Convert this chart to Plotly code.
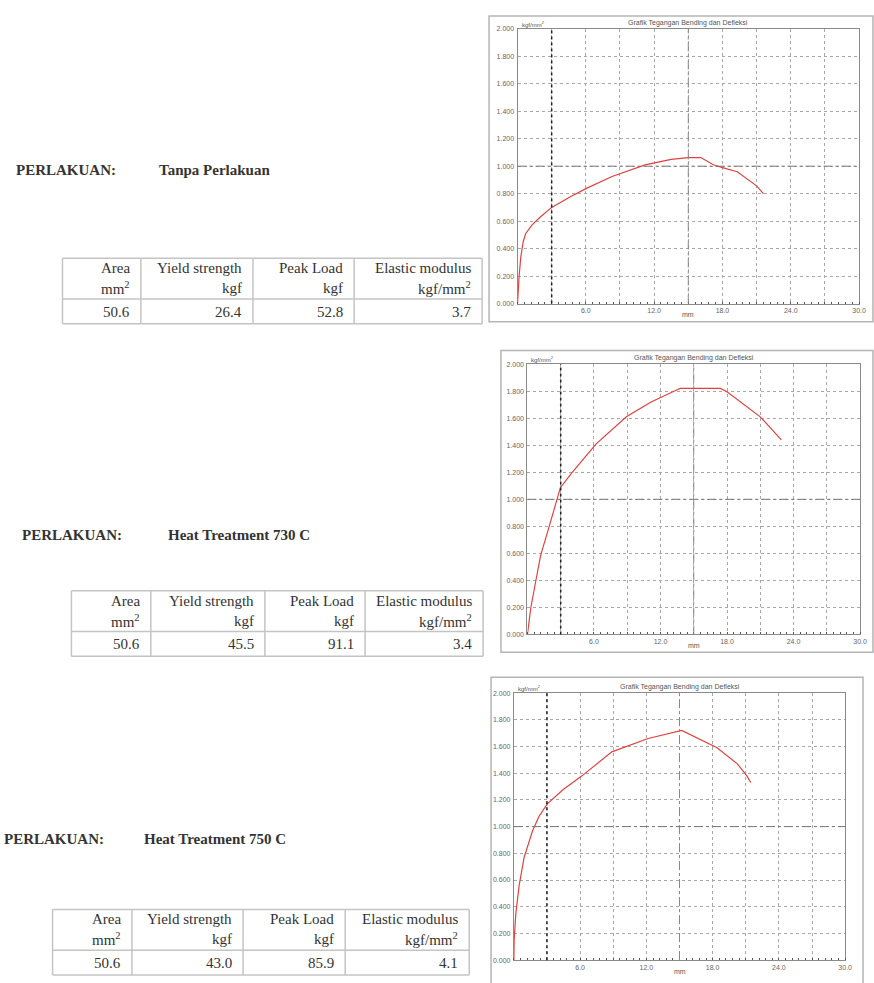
import plotly.graph_objects as go

W, H = 874, 983

# ---------------- data ----------------
treatments = ["Tanpa Perlakuan", "Heat Treatment 730 C", "Heat Treatment 750 C"]
col_names = ["Area", "Yield strength", "Peak Load", "Elastic modulus"]
col_units = ["mm<sup>2</sup>", "kgf", "kgf", "kgf/mm<sup>2</sup>"]
area = ["50.6", "50.6", "50.6"]
yield_strength = ["26.4", "45.5", "43.0"]
peak_load = ["52.8", "91.1", "85.9"]
elastic_modulus = ["3.7", "3.4", "4.1"]

# deflection (mm) vs bending stress (kgf/mm2)
defl_1 = [0, 0.05, 0.14, 0.29, 0.5, 0.72, 1.3, 2.0, 3.0, 4.6, 6.1, 8.3, 10.0, 11.2, 13.5, 15.0, 16.1, 17.2, 18.0, 19.3, 21.0, 21.6]
stress_1 = [0, 0.10, 0.20, 0.34, 0.45, 0.51, 0.575, 0.63, 0.70, 0.775, 0.84, 0.925, 0.975, 1.01, 1.05, 1.063, 1.063, 1.01, 0.99, 0.96, 0.857, 0.80]

defl_2 = [0, 0.05, 0.3, 0.74, 1.19, 1.93, 2.68, 2.97, 4.0, 6.2, 8.92, 11.15, 13.5, 13.8, 17.4, 18.0, 21.0, 22.9]
stress_2 = [0, 0.04, 0.196, 0.39, 0.586, 0.79, 0.99, 1.086, 1.196, 1.41, 1.61, 1.72, 1.81, 1.82, 1.82, 1.795, 1.61, 1.44]

defl_3 = [0, 0.03, 0.18, 0.48, 0.93, 1.68, 2.27, 3.03, 4.5, 6.17, 8.87, 12.16, 15.2, 18.4, 20.24, 21.1, 21.45]
stress_3 = [0, 0.157, 0.35, 0.56, 0.77, 0.965, 1.076, 1.17, 1.28, 1.38, 1.56, 1.66, 1.72, 1.59, 1.47, 1.38, 1.33]

x_tick_vals = [0, 3, 6, 9, 12, 15, 18, 21, 24, 27, 30]
x_tick_text = ["", "", "6.0", "", "12.0", "", "18.0", "", "24.0", "", "30.0"]
y_tick_vals = [0, 0.2, 0.4, 0.6, 0.8, 1.0, 1.2, 1.4, 1.6, 1.8, 2.0]
y_tick_text = ["0.000", "0.200", "0.400", "0.600", "0.800", "1.000", "1.200", "1.400", "1.600", "1.800", "2.000"]

chart_title = "Grafik Tegangan Bending dan Defleksi"
y_unit = "kgf/mm<sup>2</sup>"
x_unit = "mm"
label_main = "PERLAKUAN:"

series = [(defl_1, stress_1), (defl_2, stress_2), (defl_3, stress_3)]

# ---------------- geometry (pixels) ----------------
def px(x):
    return x / W

def py(y):
    return 1 - y / H

charts = [
    dict(x0=521.7, x1=866, yb=301.7, yt=25, frame=(493, 12, 880, 320)),
    dict(x0=531.7, x1=867, yb=635, yt=362.7, frame=(505, 349, 880, 653)),
    dict(x0=518, x1=852, yb=963, yt=694, frame=(495, 678, 870, 990)),
]

blocks = [
    dict(label_x=14, name_x=158, label_y=167,
         left=63, cols=[142, 255, 357, 486], top=256),
    dict(label_x=20, name_x=167, label_y=535,
         left=72, cols=[152, 267, 368, 487], top=591),
    dict(label_x=2, name_x=143, label_y=841,
         left=53, cols=[133, 245, 348, 473], top=912),
]

fig = go.Figure()
shapes = []
annotations = []
red = "#e2413f"
tickfont = dict(family="Liberation Sans", size=7, color="#666")

for i, (c, (xs, ys)) in enumerate(zip(charts, series)):
    n = "" if i == 0 else str(i + 1)
    xa, ya = "x" + n, "y" + n
    fig.add_trace(go.Scatter(x=xs, y=ys, mode="lines", xaxis=xa, yaxis=ya,
                             line=dict(color=red, width=1.2), hoverinfo="skip"))
    fig.layout["xaxis" + n] = dict(
        domain=[px(c["x0"]), px(c["x1"])], anchor=ya, range=[0, 30],
        tickmode="array", tickvals=x_tick_vals, ticktext=x_tick_text,
        showgrid=True, gridcolor="#a8a8a8", griddash="dot", gridwidth=1,
        zeroline=False, showline=True, mirror=True, linecolor="#8a8a8a", linewidth=1,
        ticks="", tickfont=tickfont, ticklabelstandoff=0,
        minor=dict(tickmode="linear", tick0=0, dtick=0.6, ticks="inside",
                   ticklen=2, tickcolor="#555", showgrid=False),
        fixedrange=True)
    fig.layout["yaxis" + n] = dict(
        domain=[py(c["yb"]), py(c["yt"])], anchor=xa, range=[0, 2.0],
        tickmode="array", tickvals=y_tick_vals, ticktext=y_tick_text,
        showgrid=True, gridcolor="#a8a8a8", griddash="dot", gridwidth=1,
        zeroline=False, showline=True, mirror=True, linecolor="#8a8a8a", linewidth=1,
        ticks="", tickfont=tickfont, ticklabelstandoff=1, fixedrange=True)
    # outer frame
    fx0, fy0, fx1, fy1 = c["frame"]
    shapes.append(dict(type="rect", xref="paper", yref="paper",
                       x0=px(fx0), x1=px(fx1), y0=py(fy1), y1=py(fy0),
                       line=dict(color="#b5b5b5", width=1.5), layer="below"))
    # special grid lines
    shapes.append(dict(type="line", xref=xa, yref=ya + " domain", x0=3, x1=3, y0=0, y1=1,
                       line=dict(color="#222", width=1.5, dash="dot")))
    shapes.append(dict(type="line", xref=xa, yref=ya + " domain", x0=15, x1=15, y0=0, y1=1,
                       line=dict(color="#888", width=1, dash="dashdot")))
    shapes.append(dict(type="line", xref=xa + " domain", yref=ya, x0=0, x1=1, y0=1.0, y1=1.0,
                       line=dict(color="#777", width=1, dash="dashdot")))
    # title, units
    annotations.append(dict(text=chart_title, xref="paper", yref="paper",
                            x=px((c["x0"] + c["x1"]) / 2), y=py(c["yt"] - 6),
                            xanchor="center", yanchor="middle", showarrow=False,
                            font=dict(family="Liberation Sans", size=7, color="#555")))
    annotations.append(dict(text=y_unit, xref="paper", yref="paper",
                            x=px(c["x0"] + 2), y=py(c["yt"] - 5),
                            xanchor="left", yanchor="middle", showarrow=False,
                            font=dict(family="Liberation Sans", size=6, color="#555")))
    annotations.append(dict(text=x_unit, xref=xa, yref="paper",
                            x=15, y=py(c["yb"] + 11),
                            xanchor="center", yanchor="middle", showarrow=False,
                            font=dict(family="Liberation Sans", size=7, color="#555")))

serif = "Liberation Serif"
txt_col = "#333"
for i, b in enumerate(blocks):
    annotations.append(dict(text="<b>" + label_main + "</b>", xref="paper", yref="paper",
                            x=px(b["label_x"]), y=py(b["label_y"]), xanchor="left", yanchor="middle",
                            showarrow=False, font=dict(family=serif, size=15, color=txt_col)))
    annotations.append(dict(text="<b>" + treatments[i] + "</b>", xref="paper", yref="paper",
                            x=px(b["name_x"]), y=py(b["label_y"]), xanchor="left", yanchor="middle",
                            showarrow=False, font=dict(family=serif, size=15, color=txt_col)))
    t = b["top"]
    rows = dict(l1=t + 10, l2=t + 30, sep=t + 41, val=t + 54, bot=t + 66)
    left = b["left"]
    cols = b["cols"]
    bc = "#c4c4c4"
    # horizontal borders
    for yy in (t, rows["sep"], rows["bot"]):
        shapes.append(dict(type="line", xref="paper", yref="paper",
                           x0=px(left), x1=px(cols[-1]), y0=py(yy), y1=py(yy),
                           line=dict(color=bc, width=1.5)))
    # vertical borders
    for xx in [left] + cols:
        shapes.append(dict(type="line", xref="paper", yref="paper",
                           x0=px(xx), x1=px(xx), y0=py(t), y1=py(rows["bot"]),
                           line=dict(color=bc, width=1.5)))
    vals = [area[i], yield_strength[i], peak_load[i], elastic_modulus[i]]
    for j in range(4):
        xr = px(cols[j] - 9)
        for txt, yy in ((col_names[j], rows["l1"]), (col_units[j], rows["l2"]), (vals[j], rows["val"])):
            annotations.append(dict(text=txt, xref="paper", yref="paper", x=xr, y=py(yy),
                                    xanchor="right", yanchor="middle", showarrow=False,
                                    font=dict(family=serif, size=15, color=txt_col)))

fig.update_layout(width=W, height=H, margin=dict(l=0, r=0, t=0, b=0),
                  paper_bgcolor="white", plot_bgcolor="white", showlegend=False,
                  shapes=shapes, annotations=annotations)

fig.write_html("out.html", config={"displayModeBar": False},
               post_script="document.body.style.margin='0';document.body.style.overflow='hidden';")
